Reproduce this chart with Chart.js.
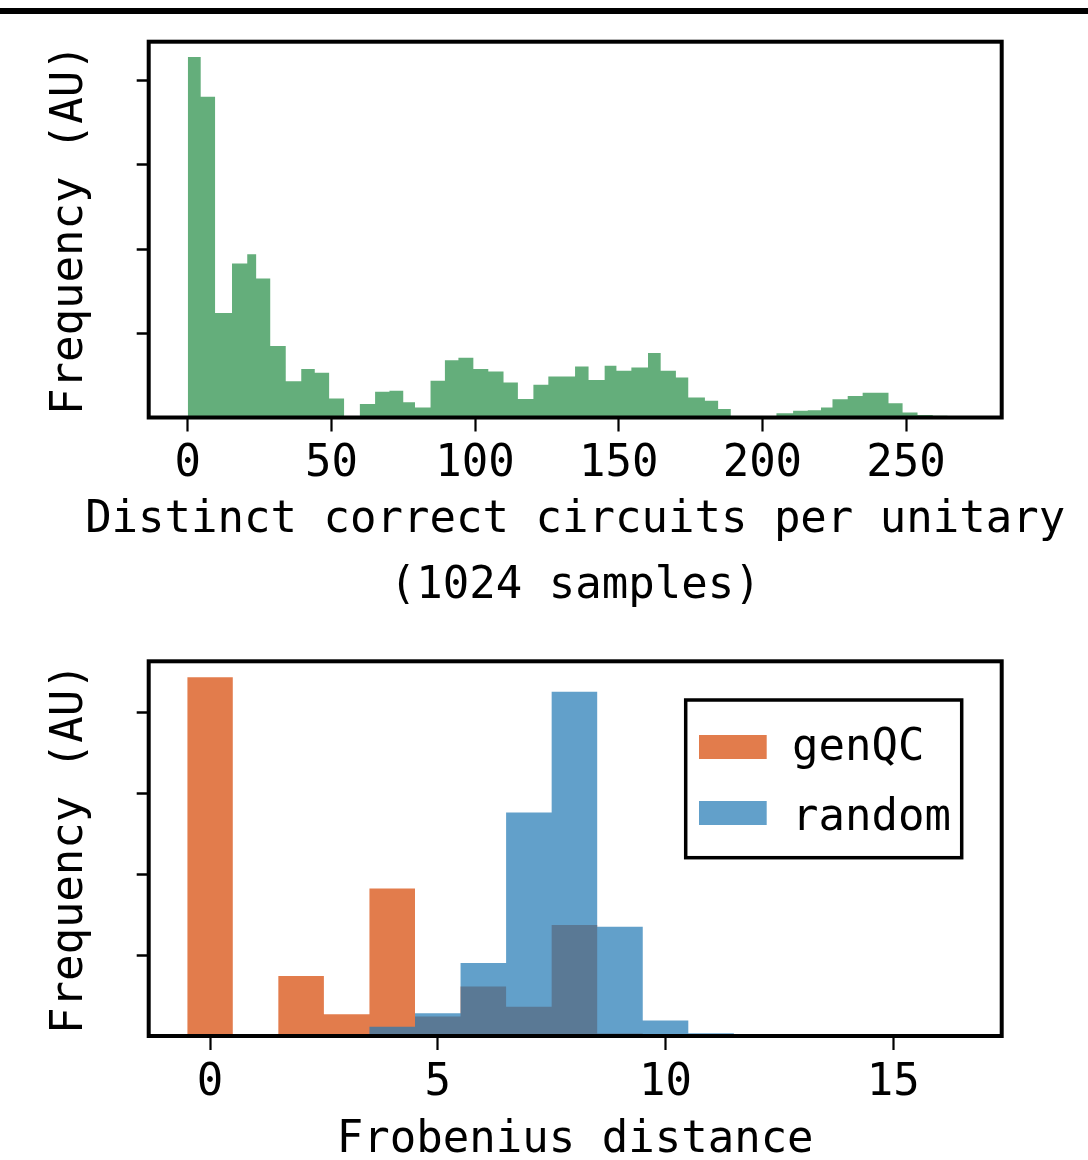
<!DOCTYPE html>
<html>
<head>
<meta charset="utf-8">
<script src="https://cdn.jsdelivr.net/npm/chart.js@4.4.1/dist/chart.umd.min.js"></script>
<style>
  html, body { margin: 0; padding: 0; background: #fff; width: 1088px; height: 1160px; overflow: hidden; }
  #c1 { position: absolute; left: 0; top: 0; }
  #c2 { position: absolute; left: 0; top: 620px; }
  #rule { position: absolute; left: 0; top: 8px; width: 1088px; height: 6px; background: #000; }
</style>
</head>
<body>
<canvas id="c1" width="1088" height="620"></canvas>
<canvas id="c2" width="1088" height="540"></canvas>
<div id="rule"></div>
<script>
// ---------- data: top histogram (distinct correct circuits per unitary) ----------
const circuitBinEdges = [0, 4.5, 9.5, 15.4, 20.7, 23.8, 28.7, 34.1, 39.5, 44.2, 49.2, 54.4, 59.9, 65.2, 70.2, 75.0, 79.1, 84.5, 89.5, 94.2, 99.4, 104.6, 109.9, 114.9, 120.3, 125.5, 130.2, 134.8, 139.5, 145.1, 149.2, 154.4, 160.2, 164.6, 169.9, 174.2, 180.0, 184.6, 189.0, 194.5, 199.7, 204.9, 210.7, 215.8, 220.4, 224.4, 229.7, 234.9, 239.4, 243.9, 248.8, 254.0, 259.3, 264.5];
const circuitFreq = [4.28, 3.81, 1.24, 1.83, 1.94, 1.65, 0.85, 0.43, 0.575, 0.53, 0.226, 0, 0.16, 0.305, 0.317, 0.18, 0.12, 0.436, 0.68, 0.71, 0.575, 0.547, 0.416, 0.219, 0.389, 0.488, 0.488, 0.607, 0.444, 0.615, 0.555, 0.595, 0.765, 0.555, 0.476, 0.238, 0.199, 0.10, 0, 0.015, 0, 0.05, 0.08, 0.087, 0.12, 0.218, 0.255, 0.295, 0.295, 0.17, 0.06, 0.03, 0.02];
const circuitTicks = [0, 50, 100, 150, 200, 250];
const circuitTitle = ['Distinct correct circuits per unitary', '(1024 samples)'];

// ---------- data: bottom histogram (Frobenius distance) ----------
const frobBins = [0, 1, 2, 3, 4, 5, 6, 7, 8, 9, 10, 11, 12, 13, 14, 15, 16];
const genqcFreq = [4.43, 0, 0.74, 0.268, 1.82, 0.24, 0.61, 0.36, 1.37, 0.03, 0, 0, 0, 0, 0, 0, 0];
const randomFreq = [0, 0, 0, 0, 0.115, 0.28, 0.90, 2.76, 4.25, 1.35, 0.19, 0.035, 0, 0, 0, 0, 0];
const frobTicks = [0, 5, 10, 15];

const freqTicks = [1, 2, 3, 4];

const FONT = '"DejaVu Sans Mono", "Liberation Mono", monospace';
const GREEN = 'rgb(100,174,123)';
const ORANGE = 'rgba(214,69,0,0.7)';
const BLUE = 'rgba(31,119,180,0.7)';

function stepPoints(edges, heights) {
  const pts = heights.map((h, i) => ({ x: edges[i], y: h }));
  pts.push({ x: edges[edges.length - 1], y: 0 });
  return pts;
}
const frobEdges = frobBins.map(b => b - 0.5).concat([frobBins[frobBins.length - 1] + 0.5]);

const framePlugin = {
  id: 'frame',
  afterDatasetsDraw(chart) {
    const { ctx, chartArea: a } = chart;
    ctx.save();
    ctx.lineWidth = 4;
    ctx.strokeStyle = '#000';
    ctx.strokeRect(a.left, a.top, a.right - a.left, a.bottom - a.top);
    ctx.restore();
  }
};

// multi-line x-axis title drawn at full width (Chart.js would squeeze it to the axis width)
const wideXTitle = {
  id: 'wideXTitle',
  afterDraw(chart, args, opts) {
    const { ctx, chartArea: a } = chart;
    ctx.save();
    ctx.font = '44px ' + FONT;
    ctx.fillStyle = '#000';
    ctx.textAlign = 'center';
    ctx.textBaseline = 'alphabetic';
    const cx = (a.left + a.right) / 2;
    opts.lines.forEach((t, i) => ctx.fillText(t, cx, a.bottom + opts.first + i * opts.step));
    ctx.restore();
  }
};

const boxLegend = {
  id: 'boxLegend',
  afterDraw(chart) {
    const { ctx, chartArea: a } = chart;
    const w = 276, h = 157.7;
    const x0 = a.right - 40 - w, y0 = a.top + 38.7;
    ctx.save();
    ctx.fillStyle = '#fff';
    ctx.fillRect(x0, y0, w, h);
    ctx.lineWidth = 3.5;
    ctx.strokeStyle = '#000';
    ctx.strokeRect(x0, y0, w, h);
    ctx.font = '44px ' + FONT;
    ctx.textBaseline = 'alphabetic';
    ctx.textAlign = 'left';
    chart.data.datasets.forEach((ds, i) => {
      ctx.fillStyle = ds.backgroundColor;
      ctx.fillRect(x0 + 13.3, y0 + 35 + i * 66, 67.7, 24);
      ctx.fillStyle = '#000';
      ctx.fillText(ds.label, x0 + 106.3, y0 + 60 + i * 70);
    });
    ctx.restore();
  }
};

function xScale(min, max, tickVals, height, title) {
  return {
    type: 'linear', min: min, max: max,
    afterBuildTicks: s => { s.ticks = tickVals.map(v => ({ value: v })); },
    afterFit: s => { s.height = height; },
    grid: { display: true, drawOnChartArea: false, drawTicks: true, tickLength: 14, tickWidth: 2.2, tickColor: '#000', color: '#000' },
    border: { display: false },
    ticks: { color: '#000', font: { size: 44, family: FONT }, padding: 7, maxRotation: 0, autoSkip: false },
    title: title ? { display: true, text: title, color: '#000', font: { size: 44, family: FONT, lineHeight: 0.8 }, padding: { top: 0, bottom: 2 } } : { display: false }
  };
}
function yScale(max) {
  return {
    min: 0, max: max,
    afterBuildTicks: s => { s.ticks = freqTicks.map(v => ({ value: v })); },
    afterFit: s => { s.width = 148.7; },
    grid: { display: true, drawOnChartArea: false, drawTicks: true, tickLength: 12, tickWidth: 2.5, tickColor: '#000', color: '#000' },
    border: { display: false },
    ticks: { display: false },
    title: { display: true, text: 'Frequency (AU)', color: '#000', font: { size: 44, family: FONT, lineHeight: 1.2 }, padding: { top: 44, bottom: 0 } }
  };
}

const common = {
  responsive: false,
  animation: false,
  devicePixelRatio: 1,
  events: [],
  elements: { point: { radius: 0 }, line: { tension: 0 } }
};

new Chart(document.getElementById('c1'), {
  type: 'line',
  data: {
    datasets: [{
      label: 'circuits',
      data: stepPoints(circuitBinEdges, circuitFreq),
      stepped: 'before',
      fill: 'origin',
      backgroundColor: GREEN,
      borderColor: 'rgba(0,0,0,0)',
      borderWidth: 0,
      pointRadius: 0
    }]
  },
  options: Object.assign({}, common, {
    layout: { padding: { left: 0, top: 41.7, right: 86.3, bottom: 0 } },
    plugins: {
      legend: { display: false }, tooltip: { enabled: false },
      wideXTitle: { lines: circuitTitle, first: 114.2, step: 66.6 }
    },
    scales: {
      x: xScale(-13.6, 283.3, circuitTicks, 202.5, null),
      y: yScale(4.463)
    }
  }),
  plugins: [framePlugin, wideXTitle]
});

new Chart(document.getElementById('c2'), {
  type: 'line',
  data: {
    datasets: [{
      label: 'genQC',
      data: stepPoints(frobEdges, genqcFreq),
      stepped: 'before',
      fill: 'origin',
      backgroundColor: ORANGE,
      borderColor: 'rgba(0,0,0,0)',
      borderWidth: 0,
      pointRadius: 0,
      order: 2
    }, {
      label: 'random',
      data: stepPoints(frobEdges, randomFreq),
      stepped: 'before',
      fill: 'origin',
      backgroundColor: BLUE,
      borderColor: 'rgba(0,0,0,0)',
      borderWidth: 0,
      pointRadius: 0,
      order: 1
    }]
  },
  options: Object.assign({}, common, {
    layout: { padding: { left: 0, top: 41.3, right: 86.3, bottom: 0 } },
    plugins: { legend: { display: false }, tooltip: { enabled: false } },
    scales: {
      x: xScale(-1.346, 17.38, frobTicks, 124, 'Frobenius distance'),
      y: yScale(4.626)
    }
  }),
  plugins: [framePlugin, boxLegend]
});
</script>
</body>
</html>
